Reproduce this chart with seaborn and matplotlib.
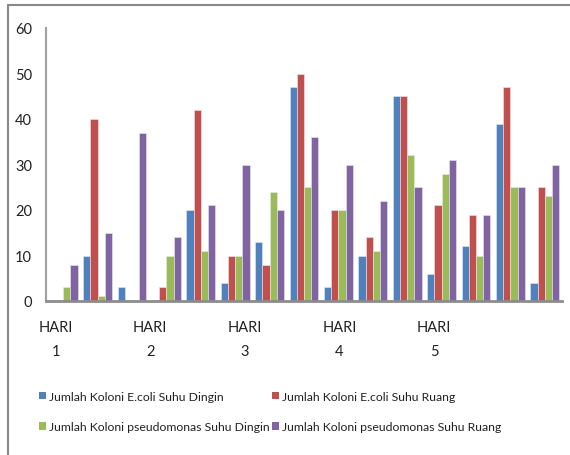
import pandas as pd
import matplotlib.pyplot as plt
import seaborn as sns
from matplotlib.patches import Patch, Rectangle

# 15 pengamatan (3 per hari)
obs = [str(i) for i in range(1, 16)]
ecoli_dingin = [0, 10, 3, 0, 20, 4, 13, 47, 3, 10, 45, 6, 12, 39, 4]
ecoli_ruang = [0, 40, 0, 3, 42, 10, 8, 50, 20, 14, 45, 21, 19, 47, 25]
pseudo_dingin = [3, 1, 0, 10, 11, 10, 24, 25, 20, 11, 32, 28, 10, 25, 23]
pseudo_ruang = [8, 15, 37, 14, 21, 30, 20, 36, 30, 22, 25, 31, 19, 25, 30]

series = [
    "Jumlah Koloni E.coli Suhu Dingin",
    "Jumlah Koloni E.coli Suhu Ruang",
    "Jumlah Koloni pseudomonas Suhu Dingin",
    "Jumlah Koloni pseudomonas Suhu Ruang",
]
colors = ["#4F81BD", "#C0504D", "#9BBB59", "#8064A2"]

day_labels = ["HARI\n1", "HARI\n2", "HARI\n3", "HARI\n4", "HARI\n5"]
day_label_pos = [-0.22, 2.53, 5.28, 8.03, 10.78]

rows = []
for name, vals in zip(series, [ecoli_dingin, ecoli_ruang, pseudo_dingin, pseudo_ruang]):
    for o, v in zip(obs, vals):
        rows.append({"obs": o, "seri": name, "nilai": v})
df = pd.DataFrame(rows)

sns.set_style("white")
plt.rcParams["font.family"] = ["Lato", "DejaVu Sans"]

fig = plt.figure(figsize=(5.7, 4.56), dpi=100)
ax = fig.add_axes([46 / 570, 1 - 302 / 456, 516 / 570, 273 / 456])

sns.barplot(data=df, x="obs", y="nilai", hue="seri", order=obs, hue_order=series,
            palette=colors, saturation=1, width=0.84, edgecolor="#e8e8f0",
            linewidth=0.4, legend=False, ax=ax)

ax.set_ylim(0, 60)
ax.set_xlim(-0.5, 14.5)
ax.set_yticks(range(0, 61, 10))
ax.set_xticks(day_label_pos)
ax.set_xticklabels(day_labels, linespacing=1.9)
ax.tick_params(axis="y", length=0, pad=10, labelsize=10.5, labelcolor="#222222")
ax.tick_params(axis="x", length=0, pad=14, labelsize=10.5, labelcolor="#222222")
ax.set_xlabel("")
ax.set_ylabel("")

for s in ["top", "right"]:
    ax.spines[s].set_visible(False)
ax.spines["left"].set_color("#a0a0a0")
ax.spines["left"].set_linewidth(1.5)
ax.spines["bottom"].set_color("#8c8c8c")
ax.spines["bottom"].set_linewidth(2)

# chart area border (cut off at right and bottom like the screenshot)
fig.add_artist(Rectangle((8 / 570, -0.1), 1.2, 1 - 6 / 456 + 0.1,
                         transform=fig.transFigure, fill=False,
                         edgecolor="#888888", linewidth=1.5))

handles = [Patch(facecolor=c, edgecolor="none") for c in colors]
order = [0, 2, 1, 3]
fig.legend([handles[i] for i in order], [series[i] for i in order],
           ncol=2, loc="upper left", bbox_to_anchor=(34 / 570, 1 - 387 / 456),
           frameon=False, fontsize=8.8, handlelength=0.6, handleheight=0.6,
           handletextpad=0.25, columnspacing=0.15, labelspacing=1.6,
           borderaxespad=0, labelcolor="#222222")

fig.savefig("out.png", dpi=100)
